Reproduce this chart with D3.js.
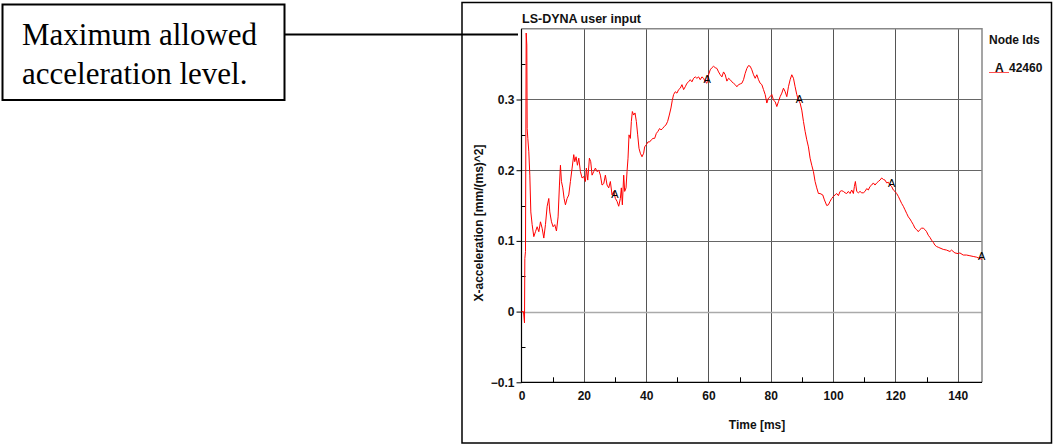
<!DOCTYPE html>
<html>
<head>
<meta charset="utf-8">
<script src="https://cdn.jsdelivr.net/npm/d3@7"></script>
<style>
body { margin: 0; background: #fff; }
svg text { font-family: "Liberation Sans", Arial, sans-serif; }
svg text.note { font-family: "Liberation Serif", "Times New Roman", serif; }
</style>
</head>
<body>
<div id="chart"></div>
<script>
// curve: time [ms] / x-acceleration [mm/(ms)^2]
const timeMs = [
  0, 0.64, 0.96, 1.07, 1.28, 1.5, 1.71, 1.82, 2.03, 2.35, 2.67, 2.99, 3.42, 3.95, 4.49, 5.02, 5.56, 6.09, 6.62, 7.16,
  7.69, 8.23, 8.76, 9.08, 9.62, 10.15, 10.68, 11.22, 11.75, 12.18, 12.5, 12.82, 13.25, 13.68, 14.1, 14.64, 15.17, 15.7,
  16.24, 16.77, 17.09, 17.52, 17.95, 18.38, 18.91, 19.44, 19.98, 20.51, 20.83, 21.26, 21.79, 22.22, 22.65, 23.18, 23.72,
  24.25, 24.79, 25.32, 25.85, 26.39, 26.92, 27.46, 27.99, 28.52,
  29.06, 29.59, 30.13, 30.66, 31.2, 31.73, 32.05, 32.37, 32.8, 33.12, 33.55, 33.87, 34.19, 34.51, 34.94, 35.26, 35.58,
  36.0, 36.43, 36.86, 37.29, 37.71, 38.14, 38.68, 39.21, 39.53, 40.06, 40.6, 41.13, 41.67, 42.2, 42.74, 43.27, 43.8,
  44.34, 44.77, 45.3, 45.83, 46.37, 46.9, 47.44, 47.97, 48.4, 48.82, 49.36, 49.89, 50.43, 50.96, 51.5, 52.03, 52.56,
  53.1, 53.63, 54.17, 54.7, 55.24, 55.77, 56.3, 56.84, 57.37, 57.91, 58.44, 58.97,
  59.51, 60.04, 60.58, 61.11, 61.65, 62.18, 62.71, 63.25, 63.78, 64.32, 64.85, 65.38, 65.92, 66.45, 66.99, 67.52, 68.06,
  68.59, 69.12, 69.66, 70.19, 70.73, 71.26, 71.79, 72.33, 72.86, 73.4, 73.93, 74.47, 75.0, 75.53, 76.07, 76.6, 77.14,
  77.67, 78.21, 78.74, 79.27, 79.81, 80.34, 80.88, 81.41, 81.94, 82.48, 83.01, 83.55, 84.08, 84.62, 85.15, 85.68, 86.22,
  86.75, 87.29, 87.82, 88.35, 88.89, 89.42, 89.96, 90.49, 91.03, 91.56, 92.09, 92.63, 93.16, 93.7, 94.23, 94.76, 95.3,
  95.83, 96.69, 97.22, 97.97, 98.5, 99.04, 99.57, 100.11, 100.64, 101.18, 101.71, 102.24, 102.78, 103.31, 103.85,
  104.38, 104.91, 105.45, 105.98, 106.52, 106.84, 107.16, 107.59, 108.12, 108.65, 109.19, 109.72, 110.26, 110.79,
  111.32, 111.86, 112.39, 112.93, 113.46, 114.0, 114.53, 115.06, 115.6, 116.13, 116.67, 117.2, 117.73, 118.27, 118.8,
  119.34, 119.87, 120.41, 120.94, 121.47, 122.01, 122.54, 123.08, 123.61, 124.15, 124.68, 125.21, 125.75, 126.28,
  126.82, 127.35, 127.88, 128.42, 128.95, 129.49, 130.02, 130.56, 131.09, 131.62, 132.16, 132.69, 133.23, 133.76,
  134.29, 135.36, 136.43, 137.5, 138.03, 139.1, 140.17, 140.7, 141.77, 142.84, 143.91, 144.98, 146.05, 147.12, 147.8
]
const accel = [
  0, 0, -0.016, 0.075, 0.085, 0.394, 0.377, 0.259, 0.245, 0.226, 0.193, 0.141, 0.123, 0.106, 0.113, 0.120, 0.113, 0.127,
  0.118, 0.104, 0.123, 0.149, 0.160, 0.141, 0.127, 0.120, 0.123, 0.114, 0.134, 0.179, 0.207, 0.184, 0.175, 0.160, 0.151,
  0.160, 0.165, 0.184, 0.203, 0.222, 0.212, 0.219, 0.207, 0.217, 0.198, 0.189, 0.191, 0.184, 0.203, 0.186, 0.217, 0.212,
  0.193, 0.198, 0.203, 0.198, 0.200, 0.193, 0.179, 0.181, 0.193, 0.179, 0.175, 0.184,
  0.165, 0.170, 0.160, 0.156, 0.149, 0.160, 0.175, 0.151, 0.193, 0.170, 0.175, 0.198, 0.217, 0.250, 0.245, 0.269, 0.283,
  0.278, 0.281, 0.269, 0.250, 0.231, 0.224, 0.219, 0.224, 0.233, 0.236, 0.240, 0.240, 0.243, 0.245, 0.245, 0.252, 0.255,
  0.259, 0.257, 0.259, 0.262, 0.264, 0.269, 0.278, 0.288, 0.299, 0.307, 0.311, 0.309, 0.314, 0.316, 0.321, 0.314, 0.318,
  0.323, 0.325, 0.328, 0.325, 0.330, 0.332, 0.330, 0.332, 0.328, 0.332, 0.330, 0.325,
  0.323, 0.335, 0.342, 0.345, 0.347, 0.345, 0.344, 0.339, 0.335, 0.332, 0.339, 0.335, 0.326, 0.330, 0.328, 0.325, 0.323,
  0.321, 0.318, 0.321, 0.322, 0.323, 0.328, 0.337, 0.344, 0.348, 0.347, 0.342, 0.335, 0.330, 0.335, 0.328, 0.323, 0.321,
  0.314, 0.307, 0.295, 0.302, 0.304, 0.307, 0.299, 0.297, 0.290, 0.297, 0.304, 0.309, 0.316, 0.311, 0.304, 0.318, 0.328,
  0.335, 0.330, 0.318, 0.307, 0.299, 0.295, 0.285, 0.269, 0.255, 0.243, 0.233, 0.217, 0.207, 0.198, 0.184, 0.175, 0.167,
  0.167, 0.165, 0.158, 0.150, 0.151, 0.156, 0.160, 0.163, 0.165, 0.167, 0.164, 0.170, 0.171, 0.170, 0.168,
  0.167, 0.170, 0.167, 0.172, 0.167, 0.177, 0.184, 0.170, 0.168, 0.170, 0.168, 0.168, 0.170, 0.174,
  0.172, 0.177, 0.179, 0.182, 0.179, 0.182, 0.184, 0.186, 0.189, 0.187, 0.186, 0.182, 0.183, 0.179, 0.177,
  0.172, 0.170, 0.167, 0.163, 0.158, 0.153, 0.149, 0.144, 0.139, 0.134, 0.131, 0.127, 0.123, 0.118,
  0.116, 0.113, 0.116, 0.118, 0.118, 0.116, 0.113, 0.108, 0.105, 0.101, 0.098, 0.094, 0.092, 0.091,
  0.090, 0.088, 0.087, 0.085, 0.087, 0.083, 0.082, 0.083, 0.080, 0.080, 0.079, 0.078, 0.077, 0.075, 0.074
]

const xTicks = [0, 20, 40, 60, 80, 100, 120, 140]
const xMinorTicks = [10, 30, 50, 70, 90, 110, 130]
const yTicks = [-0.1, 0, 0.1, 0.2, 0.3]
const yMinorTicks = [-0.05, 0.05, 0.15, 0.25, 0.35]
const markerTimes = [30, 59.6, 89.2, 118.8, 147.7]
const nodeIds = ['42460']
const markerLetters = ['A']
const annotationLines = ['Maximum allowed', 'acceleration level.']

const width = 1054
const height = 444

const svg = d3.create("svg")
    .attr("width", width)
    .attr("height", height)
    .attr("viewBox", [0, 0, width, height])

const x = d3.scaleLinear()
    .domain([0, 147.8])
    .range([521.5, 982])

const y = d3.scaleLinear()
    .domain([-0.1, 0.4])
    .range([382.3, 28.8])

/* outer frame of the plot window */
svg.append("rect")
    .attr("x", 462).attr("y", 2.5)
    .attr("width", 589.5).attr("height", 440.5)
    .attr("fill", "none")
    .attr("stroke", "#000")
    .attr("stroke-width", 1.5)

/* grid */
const grid = svg.append("g")

grid.selectAll(".vgrid")
    .data(xTicks.filter(d => d > 0))
    .enter()
    .append("line")
    .attr("class", "vgrid")
    .attr("x1", d => Math.round(x(d)) + 0.5)
    .attr("x2", d => Math.round(x(d)) + 0.5)
    .attr("y1", y(0.4))
    .attr("y2", y(-0.1))
    .attr("stroke", "#555")

grid.selectAll(".hgrid")
    .data(yTicks.filter(d => d > -0.1))
    .enter()
    .append("line")
    .attr("class", "hgrid")
    .attr("x1", x(0))
    .attr("x2", x.range()[1])
    .attr("y1", d => Math.round(y(d)) + 0.5)
    .attr("y2", d => Math.round(y(d)) + 0.5)
    .attr("stroke", d => d === 0 ? "#aaa" : "#666")
    .attr("stroke-width", d => d === 0 ? 1.6 : 1)

/* top and right border */
grid.append("path")
    .attr("d", `M${x(0)},${y(0.4)}H${x.range()[1]}V${y(-0.1)}`)
    .attr("fill", "none")
    .attr("stroke", "#888")
    .attr("stroke-width", 1.5)

/* axes */
const yAxis = svg.append("g")
    .attr("transform", `translate(${x(0)},0)`)
    .call(d3.axisLeft(y)
        .tickValues(yTicks)
        .tickSize(5)
        .tickPadding(2)
        .tickFormat(d => d === 0 ? "0" : d3.format(".1f")(d)))

const xAxis = svg.append("g")
    .attr("transform", `translate(0,${y(-0.1)})`)
    .call(d3.axisBottom(x)
        .tickValues(xTicks)
        .tickSize(0)
        .tickPadding(9))

;[yAxis, xAxis].forEach(g => {
    g.select(".domain").remove()
    g.selectAll("text")
        .attr("font-size", 12)
        .attr("font-weight", "bold")
        .attr("fill", "#111")
    g.selectAll("line").attr("stroke", "#000")
})

/* minor ticks, pointing inwards */
svg.append("g").selectAll("line")
    .data(xMinorTicks)
    .enter()
    .append("line")
    .attr("x1", d => Math.round(x(d)) + 0.5)
    .attr("x2", d => Math.round(x(d)) + 0.5)
    .attr("y1", y(-0.1))
    .attr("y2", y(-0.1) - 5)
    .attr("stroke", "#000")

svg.append("g").selectAll("line")
    .data(yMinorTicks)
    .enter()
    .append("line")
    .attr("x1", x(0))
    .attr("x2", x(0) + 4)
    .attr("y1", d => Math.round(y(d)) + 0.5)
    .attr("y2", d => Math.round(y(d)) + 0.5)
    .attr("stroke", "#000")

/* left and bottom axis lines */
svg.append("path")
    .attr("d", `M${x(0)},${y(0.4)}V${y(-0.1)}H${x.range()[1]}`)
    .attr("fill", "none")
    .attr("stroke", "#000")
    .attr("stroke-width", 1.2)

/* the curve */
const points = timeMs.map((t, i) => [t, accel[i]])

const line = d3.line()
    .x(d => x(d[0]))
    .y(d => y(d[1]))

svg.append("path")
    .datum(points)
    .attr("fill", "none")
    .attr("stroke", "#ff0000")
    .attr("stroke-width", 1)
    .attr("d", line)

/* curve symbols */
const bisect = d3.bisector(d => d[0]).left
const valueAt = t => {
    const i = Math.min(Math.max(bisect(points, t), 1), points.length - 1)
    const a = points[i - 1], b = points[i]
    return a[1] + (b[1] - a[1]) * (t - a[0]) / (b[0] - a[0])
}

svg.append("g").selectAll("text")
    .data(markerTimes)
    .enter()
    .append("text")
    .attr("x", d => x(d))
    .attr("y", d => y(valueAt(d)) + 1)
    .attr("text-anchor", "middle")
    .attr("font-size", 11)
    .attr("fill", "#000")
    .text(markerLetters[0])

/* titles */
svg.append("text")
    .attr("x", 522)
    .attr("y", 22.5)
    .attr("font-size", 12.5)
    .attr("font-weight", "bold")
    .attr("fill", "#111")
    .text("LS-DYNA user input")

svg.append("text")
    .attr("x", 757)
    .attr("y", 429)
    .attr("text-anchor", "middle")
    .attr("font-size", 12)
    .attr("font-weight", "bold")
    .attr("fill", "#111")
    .text("Time [ms]")

svg.append("text")
    .attr("transform", "translate(482.5,223) rotate(-90)")
    .attr("text-anchor", "middle")
    .attr("font-size", 12)
    .attr("font-weight", "bold")
    .attr("fill", "#111")
    .text("X-acceleration [mm/(ms)^2]")

/* legend */
svg.append("text")
    .attr("x", 989)
    .attr("y", 43.5)
    .attr("font-size", 12)
    .attr("font-weight", "bold")
    .attr("fill", "#111")
    .text("Node Ids")

const legend = svg.append("g").selectAll("g")
    .data(nodeIds)
    .enter()
    .append("g")
    .attr("transform", (d, i) => `translate(989,${71.5 + i * 20})`)

legend.append("line")
    .attr("x1", 0).attr("x2", 20)
    .attr("y1", 1).attr("y2", 1)
    .attr("stroke", "#ff5050")

legend.append("text")
    .attr("x", 6)
    .attr("font-size", 12)
    .attr("font-weight", "bold")
    .attr("fill", "#111")
    .text(markerLetters[0])

legend.append("text")
    .attr("x", 20)
    .attr("font-size", 12)
    .attr("font-weight", "bold")
    .attr("fill", "#111")
    .text(d => d)

/* annotation box with leader line */
svg.append("rect")
    .attr("x", 2.5).attr("y", 4.5)
    .attr("width", 282).attr("height", 95.5)
    .attr("fill", "#fff")
    .attr("stroke", "#000")
    .attr("stroke-width", 2)

svg.append("line")
    .attr("x1", 285).attr("x2", 518)
    .attr("y1", 34.5).attr("y2", 34.5)
    .attr("stroke", "#000")
    .attr("stroke-width", 2)

svg.append("g").selectAll("text")
    .data(annotationLines)
    .enter()
    .append("text")
    .attr("class", "note")
    .attr("x", 22)
    .attr("y", (d, i) => 45 + i * 38.5)
    .attr("font-size", 31)
    .attr("fill", "#000")
    .text(d => d)

document.getElementById('chart').appendChild(svg.node())
</script>
</body>
</html>
